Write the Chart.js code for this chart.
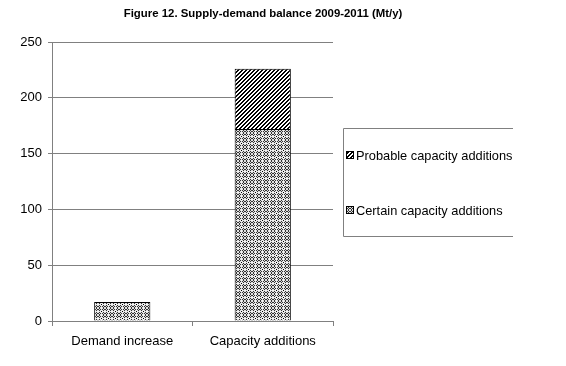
<!DOCTYPE html>
<html>
<head>
<meta charset="utf-8">
<script src="https://cdn.jsdelivr.net/npm/chart.js@4"></script>
<style>
  html, body { margin: 0; padding: 0; background: #fff; }
  #wrap { width: 566px; height: 366px; }
</style>
</head>
<body>
<div id="wrap"><canvas id="balanceChart" width="566" height="366"></canvas></div>
<script>
const categories = ["Demand increase", "Capacity additions"];
const demandIncrease = [17, null];
const certainAdditions = [null, 172];
const probableAdditions = [null, 54];
const yTicks = [0, 50, 100, 150, 200, 250];
const titleText = "Figure 12. Supply-demand balance 2009-2011 (Mt/y)";

function dotPattern() {
  const n = 7;
  const c = document.createElement("canvas");
  c.width = n; c.height = n;
  const g = c.getContext("2d");
  for (let y = 0; y < n; y++) {
    for (let x = 0; x < n; x++) {
      g.fillStyle = (x + y) % 2 ? "#333" : "#e0e0e0";
      g.fillRect(x, y, 1, 1);
    }
  }
  // light dashed grid with a dark dot in each crossing
  g.fillStyle = "#f4f4f4";
  for (let i = 0; i < n; i += 2) {
    g.fillRect(i, 3, 1, 1);
    g.fillRect(3, i, 1, 1);
  }
  g.fillStyle = "#000";
  g.fillRect(3, 3, 1, 1);
  return g.createPattern(c, "repeat");
}

function hatchPattern() {
  const c = document.createElement("canvas");
  c.width = 4; c.height = 4;
  const g = c.getContext("2d");
  g.fillStyle = "#fff";
  g.fillRect(0, 0, 4, 4);
  g.fillStyle = "#000";
  for (let i = 0; i < 4; i++) {
    g.fillRect(3 - i, i, 1, 1);
    g.fillRect((3 - i + 1) % 4, i, 1, 1);
  }
  return g.createPattern(c, "repeat");
}

document.addEventListener("DOMContentLoaded", () => {
  const ctx = document.getElementById("balanceChart").getContext("2d");
  const dots = dotPattern();
  const hatch = hatchPattern();

  // title and the half-open legend box are drawn by hand
  const extras = {
    id: "extras",
    afterDraw(chart) {
      const c = chart.ctx;
      c.save();
      c.fillStyle = "#000";
      c.font = "bold 11.4px 'Liberation Sans', Arial, sans-serif";
      c.textAlign = "center";
      c.textBaseline = "middle";
      c.fillText(titleText, 263, 14);

      c.strokeStyle = "#808080";
      c.lineWidth = 1;
      c.beginPath();
      c.moveTo(513, 128.5); c.lineTo(343.5, 128.5);
      c.lineTo(343.5, 236.5); c.lineTo(513, 236.5);
      c.stroke();

      const items = [
        { label: chart.data.datasets[2].label, fill: hatch, y: 155 },
        { label: chart.data.datasets[1].label, fill: dots, y: 210 }
      ];
      c.font = "12.8px 'Liberation Sans', Arial, sans-serif";
      c.textAlign = "left";
      items.forEach(it => {
        c.fillStyle = it.fill;
        c.fillRect(346, it.y - 4, 8, 8);
        c.strokeStyle = "#000";
        c.strokeRect(346.5, it.y - 3.5, 7, 7);
        c.fillStyle = "#000";
        c.fillText(it.label, 356, it.y + 1);
      });
      c.restore();
    }
  };

  new Chart(ctx, {
    type: "bar",
    data: {
      labels: categories,
      datasets: [
        { label: "Demand increase", data: demandIncrease, backgroundColor: dots },
        { label: "Certain capacity additions", data: certainAdditions, backgroundColor: dots },
        { label: "Probable capacity additions", data: probableAdditions, backgroundColor: hatch }
      ].map(d => Object.assign(d, {
        borderColor: "#000",
        borderWidth: 1,
        categoryPercentage: 1,
        barPercentage: 0.4
      }))
    },
    options: {
      responsive: false,
      animation: false,
      layout: { padding: { top: 42, right: 233, left: 0, bottom: 0 } },
      plugins: {
        legend: { display: false },
        title: { display: false },
        tooltip: { enabled: false }
      },
      scales: {
        x: {
          stacked: true,
          afterFit: s => { s.height = 45; },
          grid: {
            display: true,
            drawOnChartArea: false,
            offset: true,
            tickLength: 5,
            color: "#808080"
          },
          border: { color: "#808080" },
          ticks: {
            color: "#000",
            padding: 8,
            font: { family: "'Liberation Sans', Arial, sans-serif", size: 13 }
          }
        },
        y: {
          stacked: true,
          min: 0,
          max: 250,
          afterFit: s => { s.width = 52; },
          afterBuildTicks: s => { s.ticks = yTicks.map(v => ({ value: v })); },
          grid: { color: "#808080", tickLength: 4 },
          border: { color: "#808080" },
          ticks: {
            color: "#000",
            padding: 6,
            font: { family: "'Liberation Sans', Arial, sans-serif", size: 13 }
          }
        }
      }
    },
    plugins: [extras]
  });
});
</script>
</body>
</html>
